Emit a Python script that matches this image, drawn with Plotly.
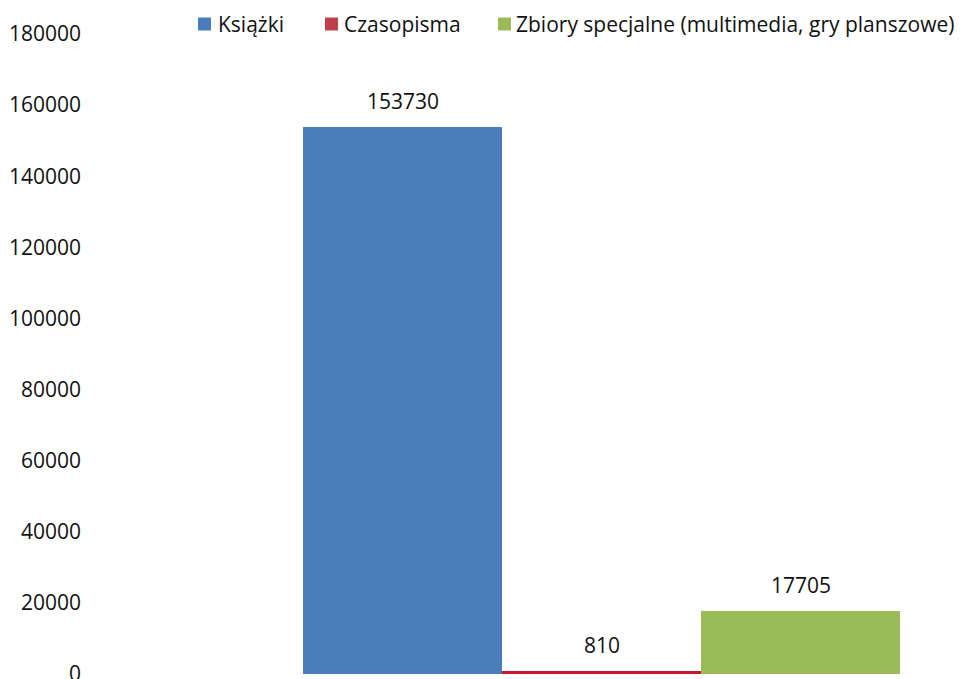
import plotly.graph_objects as go

series_names = ["Książki", "Czasopisma", "Zbiory specjalne (multimedia, gry planszowe)"]
values = [153730, 810, 17705]
colors = ["#4A7EBB", "#C8162C", "#9BBB59"]
legend_colors = ["#4A7EBB", "#C0404A", "#9BBB59"]
y_ticks = [0, 20000, 40000, 60000, 80000, 100000, 120000, 140000, 160000, 180000]

FONT = "Open Sans"
TXT = "#111111"

W, H = 960, 679
L, R, T, B = 90, 10, 34, 5
plot_w = W - L - R
plot_h = H - T - B
px_per_unit = (900 - 303) / 3.0
r0 = -0.5 - (303 - L) / px_per_unit
r1 = r0 + plot_w / px_per_unit


def px_x(px):
    return (px - L) / plot_w


def px_y(py):
    return (H - B - py) / plot_h


fig = go.Figure()
for name, v, c in zip(series_names, values, colors):
    fig.add_trace(go.Bar(
        x=[name], y=[v], name=name,
        marker=dict(color=c, line=dict(width=0)),
        width=1.0, showlegend=False,
    ))
    fig.add_annotation(x=name, y=v, text=str(v), showarrow=False,
                       yshift=26, font=dict(family=FONT, size=21, color=TXT))

# legend drawn manually to match the reference spacing
leg_square_left = [198, 325, 498]
leg_text_left = [216, 342, 514]
leg_cy = 24
sq = 13
for name, c, sx, tx in zip(series_names, legend_colors, leg_square_left, leg_text_left):
    fig.add_shape(type="rect", xref="paper", yref="paper",
                  x0=px_x(sx), x1=px_x(sx + sq),
                  y0=px_y(leg_cy + sq / 2), y1=px_y(leg_cy - sq / 2),
                  fillcolor=c, line=dict(width=0))
    fig.add_annotation(xref="paper", yref="paper", x=px_x(tx), y=px_y(leg_cy),
                       xanchor="left", yanchor="middle", text=name,
                       showarrow=False, font=dict(family=FONT, size=21, color=TXT))

fig.update_layout(
    width=W, height=H,
    margin=dict(l=L, r=R, t=T, b=B, autoexpand=False),
    paper_bgcolor="white", plot_bgcolor="white",
    barmode="overlay", bargap=0,
    font=dict(family=FONT, size=21, color=TXT),
    showlegend=False,
    xaxis=dict(type="category", range=[r0, r1], showticklabels=False,
               showgrid=False, zeroline=False, showline=False, ticks=""),
    yaxis=dict(range=[0, 180000], tickvals=y_ticks,
               ticktext=[str(t) for t in y_ticks],
               showgrid=False, zeroline=False, showline=False, ticks="",
               ticklabelstandoff=8, automargin=False,
               ticklabeloverflow="allow",
               tickfont=dict(family=FONT, size=21, color=TXT)),
)

fig.write_html("out.html",
               config={"displayModeBar": False, "staticPlot": True},
               post_script="document.body.style.margin='0';document.body.style.overflow='hidden';")
